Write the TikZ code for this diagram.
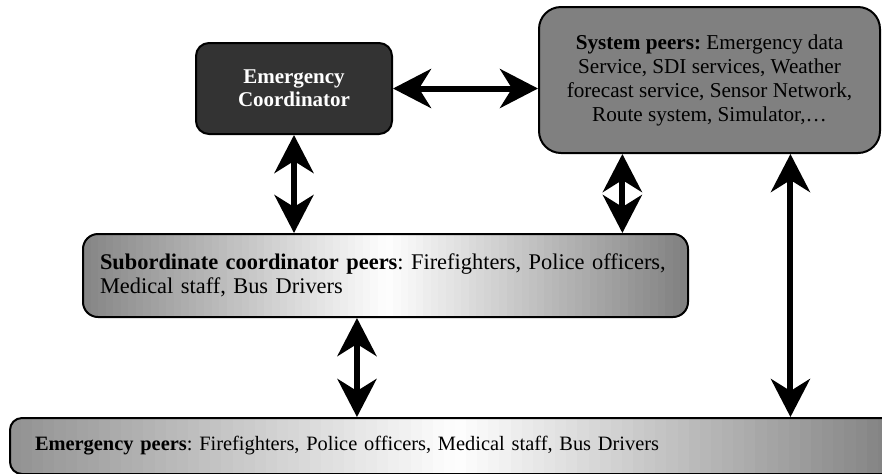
\documentclass[tikz,border=0pt]{standalone}
\usepackage{fontspec}
\setmainfont{Liberation Serif}
\usetikzlibrary{arrows.meta,calc}
\frenchspacing

\begin{document}
\begin{tikzpicture}[
    x=0.5pt, y=-0.5pt,
    % define styles
    peer/.style={
        draw,
        line width=1pt
    },
    coord/.style={
        peer,
        fill=black!80,
        text=white,
        font=\fontsize{10.5}{11.5}\selectfont\bfseries,
        align=center,
        rounded corners=6.5pt,
        minimum width=98pt,
        minimum height=45.5pt
    },
    system/.style={
        peer,
        fill=gray,
        font=\fontsize{10.6}{12}\selectfont,
        align=center,
        rounded corners=11pt,
        minimum width=170.5pt,
        minimum height=73pt
    },
    % grey - white - grey fade, drawn as thin strips
    faded/.style 2 args={
        peer,
        align=left,
        path picture={
            \foreach \k in {0,...,79} {
                \pgfmathsetmacro{\tone}{\k<40 ? #1*(1-\k/40) : #2*(\k-39.5)/40}
                \fill[gray!\tone, sharp corners]
                    ($(path picture bounding box.south west)!{\k/80}!(path picture bounding box.south east)$)
                    rectangle
                    ($(path picture bounding box.north west)!{(\k+1.4)/80}!(path picture bounding box.north east)$);
            }
        }
    },
    link/.style={
        {Stealth[length=19pt,width=19.5pt,inset=6pt]}-{Stealth[length=19pt,width=19.5pt,inset=6pt]},
        line width=3pt
    }
]
\clip (0,0) rectangle (882,473);

% the coordinator and the system services
\node[coord] (ec) at (294,88.5) {Emergency\\Coordinator};
\node[system] (sys) at (709.5,80)
    {\textbf{System peers:} Emergency data\\
     Service, SDI services, Weather\\
     forecast service, Sensor Network,\\
     Route system, Simulator,…};

% subordinate coordinators and emergency peers
\node[faded={95}{100}, rounded corners=7.5pt, font=\fontsize{11.2}{12}\selectfont,
      text width=285.5pt, inner xsep=8.5pt, minimum height=41.5pt] (sub) at (385.5,275.5)
    {\textbf{Subordinate coordinator peers}: Firefighters, Police officers,\\
     Medical staff, Bus Drivers};
\node[faded={85}{100}, rounded corners=6pt, font=\fontsize{10.2}{12}\selectfont,
      text width=420pt, inner xsep=12.5pt, minimum height=28pt] (bot) at (455,446)
    {\textbf{Emergency peers}: Firefighters, Police officers, Medical staff, Bus Drivers};

% points where the vertical links leave the boxes
\coordinate (sysa) at ($(sys.south west)!0.246!(sys.south east)$);
\coordinate (sysb) at ($(sys.south west)!0.736!(sys.south east)$);
\coordinate (suba) at ($(sub.south west)!0.453!(sub.south east)$);

% two way links
\draw[link] (ec.east) -- (ec.east -| sys.west);
\draw[link] (ec.south) -- (ec.south |- sub.north);
\draw[link] (sysa) -- (sysa |- sub.north);
\draw[link] (suba) -- (suba |- bot.north);
\draw[link] (sysb) -- (sysb |- bot.north);
\end{tikzpicture}
\end{document}
